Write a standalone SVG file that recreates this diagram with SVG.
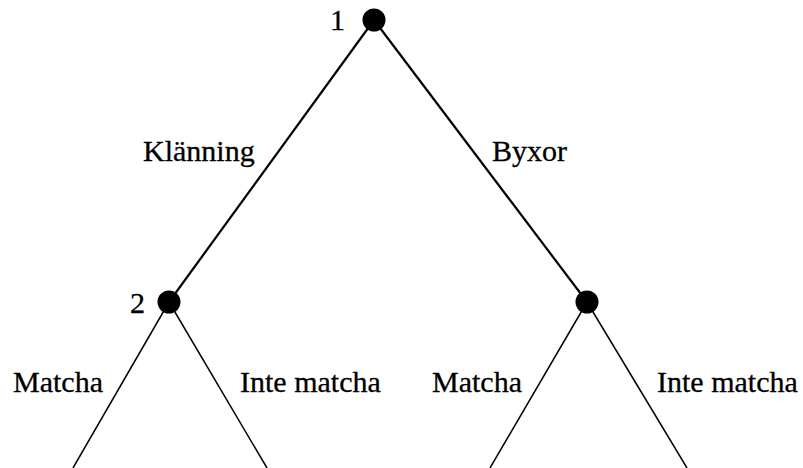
<svg xmlns="http://www.w3.org/2000/svg" width="803" height="468" viewBox="0 0 803 468">
<style>
text{font-family:'Liberation Serif','DejaVu Serif',serif;font-size:30px;fill:#000;stroke:#000;stroke-width:0.3}
.up{stroke:#000;stroke-width:2.2;fill:none}
.lo{stroke:#000;stroke-width:1.5;fill:none}
.dot{fill:#000}
</style>
<rect width="803" height="468" fill="#fff"/>
<g id="connectors">
<line class="up" x1="374" y1="20" x2="169" y2="302"/>
<line class="up" x1="374" y1="20" x2="587" y2="302"/>
<line class="lo" x1="169" y1="302" x2="73" y2="468"/>
<line class="lo" x1="169" y1="302" x2="267" y2="468"/>
<line class="lo" x1="587" y1="302" x2="490" y2="468"/>
<line class="lo" x1="587" y1="302" x2="687" y2="468"/>
<text x="143" y="161">Klänning</text>
<text x="492" y="161">Byxor</text>
<text x="13" y="392">Matcha</text>
<text x="240" y="392">Inte matcha</text>
<text x="432" y="392">Matcha</text>
<text x="657" y="392">Inte matcha</text>
</g>
<g id="node1"><circle class="dot" cx="374" cy="20" r="11.5"/><text x="345" y="30" text-anchor="end">1</text></g>
<g id="node2"><circle class="dot" cx="169" cy="302" r="11.5"/><text x="145" y="313" text-anchor="end">2</text></g>
<g id="node3"><circle class="dot" cx="587" cy="302" r="11.5"/></g>
</svg>
